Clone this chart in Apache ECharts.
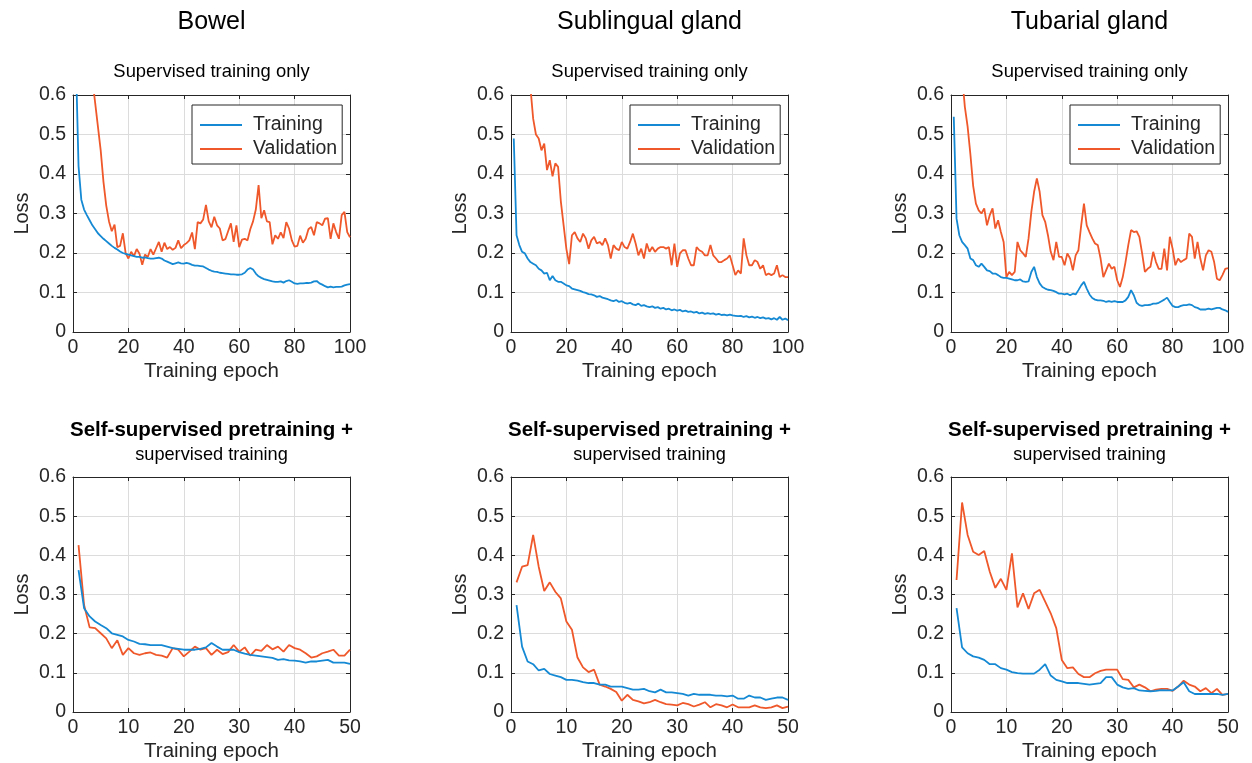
<!DOCTYPE html>
<html>
<head>
<meta charset="utf-8">
<script src="https://cdn.jsdelivr.net/npm/echarts@6/dist/echarts.min.js"></script>
<style>html,body{margin:0;padding:0;background:#fff;}#c{width:1252px;height:763px;}</style>
</head>
<body>
<div id="c"></div>
<script>
// ---- data (loss per epoch, epoch = index + 1) ----
const organTitles = ['Bowel', 'Sublingual gland', 'Tubarial gland'];
const topSubtitle = 'Supervised training only';
const bottomSubtitleBold = 'Self-supervised pretraining +';
const bottomSubtitle = 'supervised training';
const seriesNames = ['Training', 'Validation'];
const yTicks = [0, 0.1, 0.2, 0.3, 0.4, 0.5, 0.6];

const bowelSupTrain = [0.7,0.42,0.335,0.31,0.296,0.283,0.27,0.26,0.25,0.243,
0.236,0.23,0.224,0.218,0.213,0.209,0.204,0.2,0.198,0.196,
0.194,0.192,0.19,0.19,0.188,0.189,0.187,0.186,0.186,0.187,
0.188,0.186,0.181,0.178,0.175,0.172,0.174,0.176,0.174,0.173,
0.175,0.173,0.17,0.168,0.168,0.167,0.166,0.162,0.158,0.155,
0.153,0.152,0.15,0.149,0.148,0.147,0.146,0.146,0.145,0.145,
0.146,0.15,0.158,0.162,0.158,0.148,0.141,0.137,0.134,0.132,
0.13,0.128,0.127,0.127,0.128,0.125,0.129,0.131,0.127,0.123,
0.122,0.123,0.123,0.124,0.124,0.125,0.128,0.129,0.123,0.12,
0.116,0.113,0.115,0.113,0.114,0.114,0.115,0.118,0.12,0.121];
const bowelSupVal = [1.2,1.05,0.95,0.85,0.78,0.70,0.64,0.58,0.52,0.46,
0.38,0.32,0.28,0.255,0.272,0.215,0.218,0.25,0.2,0.186,
0.203,0.192,0.21,0.198,0.17,0.196,0.19,0.21,0.196,0.212,
0.228,0.203,0.226,0.21,0.215,0.208,0.213,0.232,0.212,0.22,
0.225,0.232,0.252,0.21,0.278,0.275,0.285,0.322,0.28,0.265,
0.292,0.27,0.262,0.232,0.235,0.255,0.275,0.228,0.27,0.215,
0.234,0.236,0.232,0.26,0.28,0.31,0.372,0.288,0.308,0.28,
0.278,0.222,0.245,0.236,0.252,0.238,0.278,0.262,0.232,0.216,
0.218,0.244,0.226,0.236,0.26,0.266,0.245,0.278,0.275,0.27,
0.287,0.288,0.236,0.275,0.253,0.236,0.296,0.304,0.253,0.24];

const subSupTrain = [0.49,0.245,0.22,0.203,0.199,0.186,0.177,0.173,0.169,0.16,
0.156,0.148,0.15,0.131,0.142,0.131,0.127,0.127,0.123,0.118,
0.116,0.11,0.108,0.106,0.104,0.101,0.099,0.096,0.095,0.093,
0.089,0.091,0.087,0.085,0.083,0.08,0.078,0.081,0.076,0.078,
0.074,0.072,0.074,0.07,0.068,0.072,0.066,0.068,0.065,0.063,
0.065,0.061,0.063,0.059,0.061,0.057,0.059,0.055,0.057,0.054,
0.056,0.052,0.054,0.051,0.052,0.049,0.051,0.047,0.049,0.046,
0.048,0.046,0.047,0.044,0.046,0.043,0.044,0.042,0.044,0.042,
0.041,0.04,0.041,0.038,0.04,0.037,0.039,0.036,0.038,0.035,
0.037,0.034,0.035,0.032,0.035,0.031,0.038,0.031,0.034,0.03];
const subSupVal = [1.3,1.1,0.95,0.85,0.75,0.68,0.62,0.54,0.5,0.49,
0.46,0.477,0.41,0.435,0.394,0.427,0.418,0.33,0.27,0.21,
0.172,0.245,0.253,0.237,0.228,0.249,0.237,0.211,0.232,0.241,
0.224,0.228,0.22,0.237,0.22,0.186,0.22,0.211,0.207,0.228,
0.215,0.211,0.228,0.249,0.224,0.194,0.211,0.186,0.224,0.203,
0.215,0.203,0.211,0.215,0.215,0.211,0.215,0.169,0.224,0.165,
0.199,0.207,0.207,0.186,0.169,0.169,0.215,0.207,0.203,0.194,
0.194,0.22,0.194,0.186,0.177,0.177,0.182,0.186,0.194,0.169,
0.144,0.156,0.148,0.237,0.194,0.169,0.169,0.182,0.177,0.16,
0.169,0.144,0.148,0.144,0.148,0.169,0.139,0.144,0.139,0.139];

const tubSupTrain = [0.545,0.287,0.245,0.228,0.22,0.211,0.186,0.182,0.169,0.165,
0.173,0.165,0.156,0.154,0.148,0.148,0.144,0.139,0.137,0.137,
0.135,0.133,0.131,0.131,0.133,0.128,0.127,0.128,0.152,0.165,
0.139,0.123,0.114,0.11,0.107,0.106,0.104,0.101,0.097,0.097,
0.095,0.097,0.093,0.097,0.095,0.106,0.118,0.127,0.11,0.095,
0.086,0.082,0.08,0.08,0.079,0.076,0.078,0.076,0.078,0.076,
0.076,0.076,0.08,0.089,0.106,0.093,0.074,0.068,0.066,0.068,
0.068,0.069,0.072,0.072,0.074,0.078,0.082,0.087,0.076,0.066,
0.063,0.063,0.066,0.068,0.068,0.07,0.068,0.063,0.061,0.057,
0.057,0.057,0.059,0.057,0.059,0.061,0.061,0.057,0.055,0.051];
const tubSupVal = [0.9,0.8,0.72,0.65,0.57,0.52,0.45,0.37,0.325,0.308,
0.3,0.313,0.27,0.296,0.313,0.262,0.283,0.253,0.228,0.139,
0.152,0.144,0.152,0.228,0.207,0.199,0.19,0.237,0.304,0.355,
0.389,0.355,0.296,0.279,0.245,0.203,0.182,0.228,0.19,0.19,
0.169,0.199,0.186,0.156,0.194,0.207,0.27,0.325,0.27,0.253,
0.237,0.224,0.22,0.186,0.139,0.156,0.173,0.16,0.165,0.131,
0.114,0.139,0.177,0.22,0.258,0.253,0.255,0.241,0.199,0.152,
0.16,0.165,0.203,0.177,0.16,0.16,0.211,0.156,0.241,0.211,
0.169,0.186,0.177,0.182,0.186,0.249,0.241,0.186,0.228,0.186,
0.156,0.194,0.207,0.203,0.177,0.135,0.131,0.144,0.16,0.162];

const bowelSslTrain = [0.362,0.265,0.244,0.231,0.222,0.214,0.201,0.197,0.193,0.184,
0.18,0.174,0.173,0.171,0.171,0.171,0.167,0.163,0.161,0.159,
0.159,0.159,0.161,0.165,0.176,0.167,0.159,0.159,0.159,0.153,
0.149,0.146,0.144,0.142,0.14,0.138,0.133,0.135,0.132,0.131,
0.129,0.126,0.129,0.129,0.131,0.133,0.126,0.126,0.126,0.123];
const bowelSslVal = [0.426,0.273,0.216,0.214,0.201,0.188,0.163,0.183,0.146,0.163,
0.15,0.146,0.15,0.152,0.146,0.144,0.139,0.163,0.159,0.142,
0.154,0.167,0.159,0.163,0.146,0.159,0.148,0.153,0.171,0.154,
0.165,0.144,0.159,0.156,0.171,0.16,0.167,0.154,0.171,0.163,
0.159,0.15,0.139,0.142,0.15,0.154,0.159,0.144,0.144,0.159];

const subSslTrain = [0.273,0.167,0.129,0.122,0.106,0.11,0.097,0.093,0.089,0.082,
0.082,0.08,0.076,0.074,0.074,0.07,0.07,0.065,0.065,0.065,
0.061,0.057,0.057,0.059,0.053,0.05,0.057,0.05,0.05,0.048,
0.046,0.042,0.046,0.044,0.044,0.044,0.042,0.042,0.04,0.042,
0.034,0.034,0.042,0.037,0.037,0.031,0.034,0.037,0.037,0.031];
const subSslVal = [0.331,0.371,0.375,0.452,0.371,0.309,0.331,0.307,0.29,0.231,
0.21,0.139,0.114,0.102,0.108,0.07,0.065,0.059,0.051,0.029,
0.044,0.031,0.027,0.022,0.025,0.031,0.025,0.02,0.019,0.017,
0.023,0.02,0.014,0.019,0.025,0.012,0.02,0.017,0.012,0.019,
0.012,0.012,0.012,0.017,0.012,0.01,0.012,0.017,0.01,0.014];

const tubSslTrain = [0.265,0.165,0.15,0.142,0.139,0.133,0.122,0.122,0.112,0.108,
0.102,0.099,0.098,0.098,0.098,0.108,0.122,0.093,0.082,0.078,
0.074,0.074,0.074,0.072,0.07,0.072,0.074,0.089,0.089,0.07,
0.063,0.059,0.061,0.055,0.054,0.053,0.054,0.056,0.055,0.055,
0.065,0.076,0.053,0.046,0.046,0.046,0.046,0.046,0.044,0.046];
const tubSslVal = [0.337,0.535,0.452,0.409,0.401,0.411,0.358,0.317,0.34,0.312,
0.405,0.267,0.303,0.263,0.303,0.312,0.282,0.252,0.214,0.133,
0.112,0.114,0.097,0.089,0.089,0.099,0.105,0.108,0.108,0.108,
0.084,0.082,0.063,0.07,0.063,0.053,0.057,0.059,0.059,0.054,
0.065,0.08,0.07,0.065,0.053,0.061,0.048,0.059,0.044,0.046];

// ---- layout ----
const FONT = '"Liberation Sans", Arial, Helvetica, sans-serif';
const BLUE = '#1589d3', ORANGE = '#ef582a', INK = '#262626';
const colLefts = [73, 511, 951];
const plotW = 277;
const rows = [
  { top: 95, height: 237, xMax: 100, xInt: 20, sets: [[bowelSupTrain, bowelSupVal], [subSupTrain, subSupVal], [tubSupTrain, tubSupVal]], legend: true },
  { top: 477, height: 235, xMax: 50, xInt: 10, sets: [[bowelSslTrain, bowelSslVal], [subSslTrain, subSslVal], [tubSslTrain, tubSslVal]], legend: false }
];

const grid = [], xAxis = [], yAxis = [], series = [], legend = [], graphic = [];
let gi = 0;
rows.forEach((row, r) => {
  row.sets.forEach((set, c) => {
    grid.push({ left: colLefts[c], top: row.top, width: plotW, height: row.height, containLabel: false });
    const common = { gridIndex: gi, type: 'value', min: 0 };
    xAxis.push(Object.assign({}, common, {
      max: row.xMax, interval: row.xInt, position: 'bottom',
      name: 'Training epoch', nameLocation: 'middle', nameGap: 29,
      nameTextStyle: { fontFamily: FONT, fontSize: 20.5, color: INK },
      axisLine: { show: true, onZero: false, lineStyle: { color: INK, width: 1 } },
      axisTick: { show: true, inside: true, length: 4, lineStyle: { color: INK } },
      axisLabel: { show: true, margin: 6, fontFamily: FONT, fontSize: 19.5, color: INK },
      splitLine: { show: true, lineStyle: { color: '#dcdcdc', width: 1 } }
    }));
    xAxis.push(Object.assign({}, common, {
      max: row.xMax, interval: row.xInt, position: 'top',
      axisLine: { show: true, onZero: false, lineStyle: { color: INK, width: 1 } },
      axisTick: { show: true, inside: true, length: 4, lineStyle: { color: INK } },
      axisLabel: { show: false }, splitLine: { show: false }
    }));
    yAxis.push(Object.assign({}, common, {
      max: 0.6, interval: 0.1, position: 'left',
      name: 'Loss', nameLocation: 'middle', nameGap: 41, nameRotate: 90,
      nameTextStyle: { fontFamily: FONT, fontSize: 20, color: INK },
      axisLine: { show: true, onZero: false, lineStyle: { color: INK, width: 1 } },
      axisTick: { show: true, inside: true, length: 4, lineStyle: { color: INK } },
      axisLabel: { show: true, margin: 7, fontFamily: FONT, fontSize: 19.5, color: INK,
        formatter: v => String(Math.round(v * 10) / 10) },
      splitLine: { show: true, lineStyle: { color: '#dcdcdc', width: 1 } }
    }));
    yAxis.push(Object.assign({}, common, {
      max: 0.6, interval: 0.1, position: 'right',
      axisLine: { show: true, onZero: false, lineStyle: { color: INK, width: 1 } },
      axisTick: { show: true, inside: true, length: 4, lineStyle: { color: INK } },
      axisLabel: { show: false }, splitLine: { show: false }
    }));
    [set[0], set[1]].forEach((arr, k) => {
      series.push({
        type: 'line', name: seriesNames[k],
        xAxisIndex: gi * 2, yAxisIndex: gi * 2,
        data: arr.map((v, i) => [i + 1, v]),
        symbol: 'none', clip: true, animation: false,
        lineStyle: { color: k === 0 ? BLUE : ORANGE, width: 1.8 },
        itemStyle: { color: k === 0 ? BLUE : ORANGE },
        z: k === 0 ? 3 : 2
      });
    });
    if (row.legend) {
      legend.push({
        left: colLefts[c] + 119, top: row.top + 10, orient: 'vertical',
        data: seriesNames.map(n => ({ name: n, icon: 'rect' })),
        itemWidth: 42, itemHeight: 2, itemGap: 4,
        padding: [10, 5, 5, 8],
        borderColor: INK, borderWidth: 1, backgroundColor: '#fff',
        selectedMode: false,
        textStyle: { fontFamily: FONT, fontSize: 19.5, color: INK, padding: [0, 0, 0, 6], lineHeight: 19 }
      });
    }
    gi++;
  });
});

colLefts.forEach((l, c) => {
  const cx = l + plotW / 2;
  graphic.push({ type: 'text', x: cx, y: 22, style: { text: organTitles[c], fontFamily: FONT, fontSize: 25, fill: '#000', align: 'center', verticalAlign: 'middle' } });
  graphic.push({ type: 'text', x: cx, y: 72, style: { text: topSubtitle, fontFamily: FONT, fontSize: 18.4, fill: '#000', align: 'center', verticalAlign: 'middle' } });
  graphic.push({ type: 'text', x: cx, y: 430, style: { text: bottomSubtitleBold, fontFamily: FONT, fontSize: 20.5, fontWeight: 'bold', fill: '#000', align: 'center', verticalAlign: 'middle' } });
  graphic.push({ type: 'text', x: cx, y: 455, style: { text: bottomSubtitle, fontFamily: FONT, fontSize: 18.2, fill: '#000', align: 'center', verticalAlign: 'middle' } });
});

const chart = echarts.init(document.getElementById('c'), null, { renderer: 'canvas' });
chart.setOption({
  animation: false,
  backgroundColor: '#fff',
  grid, xAxis, yAxis, series, legend, graphic
});
</script>
</body>
</html>
